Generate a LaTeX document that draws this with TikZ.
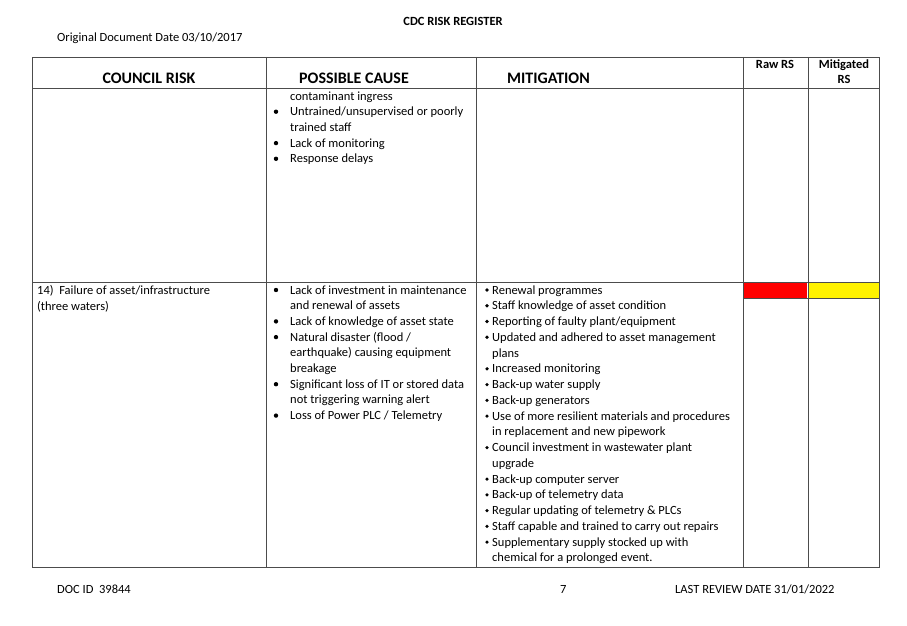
\documentclass[tikz,border=0pt]{standalone}
\usepackage{fontspec}
\setmainfont{Carlito}
\tikzset{
  txt/.style={anchor=base west, inner sep=0pt, font=\fontsize{12.5}{14}\selectfont},
  hdr/.style={anchor=base west, inner sep=0pt, font=\fontsize{16}{18}\selectfont\bfseries},
  small/.style={anchor=base, inner sep=0pt, font=\fontsize{12.5}{14}\selectfont\bfseries},
  grid/.style={draw=black!70, line width=0.6pt}
}
\begin{document}
\begin{tikzpicture}[x=1pt,y=-1pt]
    \useasboundingbox (0,0) rectangle (907,626);
    % page header and footer
    \node[small] (title) at (453,26) {CDC RISK REGISTER};
    \node[txt] (odate) at (57,42) {Original Document Date 03/10/2017};
    \node[txt] (docid) at (57,593) {DOC ID\ \ 39844};
    \node[txt] (page) at (560,593) {7};
    \node[txt] (review) at (675,593) {LAST REVIEW DATE 31/01/2022};
    % cell colours
    \fill[red] (743,283) rectangle (807,298);
    \fill[yellow] (808,283) rectangle (879,298);
    % table grid
    \draw[grid] (32,57) rectangle (879,567);
    \draw[grid] (32,88) -- (879,88);
    \draw[grid] (32,282) -- (879,282);
    \draw[grid] (743,298) -- (879,298);
    \foreach \cx in {266,476,743,808} \draw[grid] (\cx,57) -- (\cx,567);
    % column heads
    \node[hdr, anchor=base] (hrisk) at (149,83) {COUNCIL RISK};
    \node[hdr] (hcause) at (299,83) {POSSIBLE CAUSE};
    \node[hdr] (hmit) at (507,83) {MITIGATION};
    \node[small] (hraw) at (775,69) {Raw RS};
    \node[small] (hmit1) at (844,69) {Mitigated};
    \node[small] (hmit2) at (844,84) {RS};
    % first row, continued
    \node[txt] (c0) at (290,100) {contaminant ingress};
    \foreach \t [count=\i] in {Untrained/unsupervised or poorly, trained staff, Lack of monitoring, Response delays}
        \node[txt] (c\i) at (290,100+15.7*\i) {\t};
    \foreach \i in {1,3,4} \fill (276,100+15.7*\i-4) circle (2.2);
    % second row
    \node[txt] (r14a) at (37,294) {14)\ \ Failure of asset/infrastructure};
    \node[txt] (r14b) at (37,310) {(three waters)};
    \foreach \t [count=\i from 0] in {Lack of investment in maintenance, and renewal of assets, Lack of knowledge of asset state, Natural disaster (flood /, earthquake) causing equipment, breakage, Significant loss of IT or stored data, not triggering warning alert, Loss of Power PLC / Telemetry}
        \node[txt] (p\i) at (290,294+15.7*\i) {\t};
    \foreach \i in {0,2,3,6,8} \fill (276,294+15.7*\i-4) circle (2.2);
    \foreach \t [count=\i from 0] in {Renewal programmes, Staff knowledge of asset condition, Reporting of faulty plant/equipment, Updated and adhered to asset management, plans, Increased monitoring, Back-up water supply, Back-up generators, Use of more resilient materials and procedures, in replacement and new pipework, Council investment in wastewater plant, upgrade, Back-up computer server, Back-up of telemetry data, Regular updating of telemetry \& PLCs, Staff capable and trained to carry out repairs, Supplementary supply stocked up with, chemical for a prolonged event.}
        \node[txt] (m\i) at (492,294+15.76*\i) {\t};
    \foreach \i in {0,1,2,3,5,6,7,8,10,12,13,14,15,16}
        \fill (487,294+15.76*\i-4) circle (1.8);
\end{tikzpicture}
\end{document}
